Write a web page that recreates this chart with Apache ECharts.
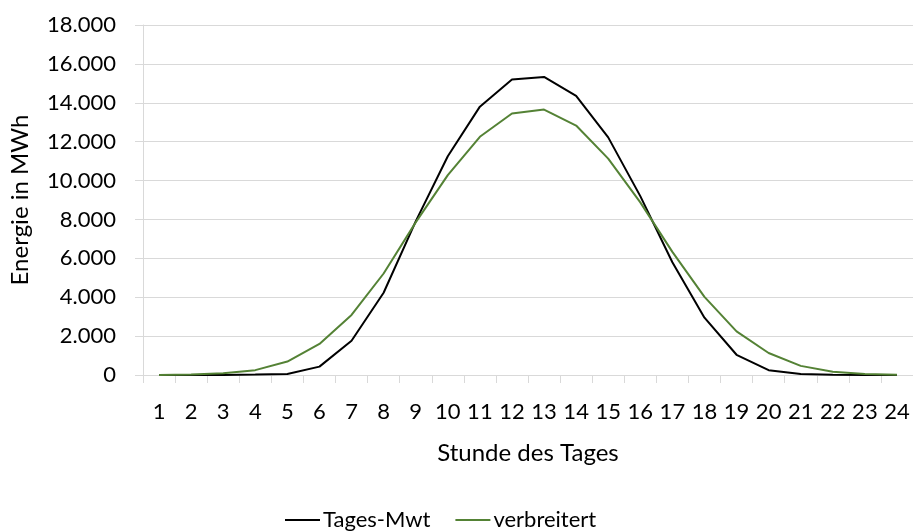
<!DOCTYPE html>
<html>
<head>
<meta charset="utf-8">
<script src="https://cdn.jsdelivr.net/npm/echarts@6/dist/echarts.min.js"></script>
<style>
html,body{margin:0;padding:0;background:#fff;}
#chart{width:913px;height:532px;}
</style>
</head>
<body>
<div id="chart"></div>
<script>
const hours = ['1','2','3','4','5','6','7','8','9','10','11','12','13','14','15','16','17','18','19','20','21','22','23','24'];
const tagesMwt = [0, 0, 5, 20, 50, 430, 1760, 4230, 7900, 11250, 13800, 15200, 15330, 14350, 12220, 9200, 5800, 2950, 1040, 250, 50, 10, 0, 0];
const verbreitert = [5, 20, 85, 250, 690, 1600, 3090, 5220, 7850, 10280, 12250, 13450, 13650, 12830, 11130, 8880, 6330, 4020, 2240, 1130, 470, 170, 50, 10];
const seriesNames = ['Tages-Mwt', 'verbreitert'];
const yTicks = {min: 0, max: 18000, interval: 2000};
const axisNames = {x: 'Stunde des Tages', y: 'Energie in MWh'};

const FONT = 'Lato';
function fmt(v){ return String(v).replace(/\B(?=(\d{3})+(?!\d))/g, '.'); }

const chart = echarts.init(document.getElementById('chart'), null, {renderer:'canvas'});
chart.setOption({
  animation: false,
  backgroundColor: '#fff',
  textStyle: {fontFamily: FONT},
  grid: {left: 143, right: 0, top: 25, bottom: 157, containLabel: false, outerBoundsMode: 'none'},
  legend: {
    data: seriesNames,
    left: 285, top: 509, padding: 0,
    icon: 'rect', itemWidth: 35, itemHeight: 2, itemGap: 25,
    textStyle: {fontFamily: FONT, fontSize: 22, color: '#000', padding: [0,0,0,-2]}
  },
  xAxis: {
    type: 'category', data: hours, boundaryGap: true,
    axisLine: {show: true, lineStyle: {color: '#d9d9d9', width: 1}},
    axisTick: {show: true, length: 8, interval: 0, lineStyle: {color: '#d9d9d9'}},
    axisLabel: {interval: 0, fontFamily: FONT, fontSize: 22, color: '#000', margin: 26},
    splitLine: {show: false},
    name: axisNames.x, nameLocation: 'middle', nameGap: 66,
    nameTextStyle: {fontFamily: FONT, fontSize: 24, color: '#000'}
  },
  yAxis: {
    type: 'value', min: yTicks.min, max: yTicks.max, interval: yTicks.interval,
    axisLine: {show: true, lineStyle: {color: '#d9d9d9', width: 1}},
    axisTick: {show: true, length: 8, lineStyle: {color: '#d9d9d9'}},
    axisLabel: {fontFamily: FONT, fontSize: 22, color: '#000', margin: 27, formatter: fmt},
    splitLine: {show: true, lineStyle: {color: '#d9d9d9', width: 1}},
    name: axisNames.y, nameLocation: 'middle', nameGap: 111, nameRotate: 90,
    nameTextStyle: {fontFamily: FONT, fontSize: 24, color: '#000'}
  },
  series: [
    {name: seriesNames[0], type: 'line', data: tagesMwt, symbol: 'none', smooth: false,
     lineStyle: {color: '#000000', width: 2}, itemStyle: {color: '#000000'}},
    {name: seriesNames[1], type: 'line', data: verbreitert, symbol: 'none', smooth: false,
     lineStyle: {color: '#548235', width: 2}, itemStyle: {color: '#548235'}}
  ]
});
</script>
</body>
</html>
